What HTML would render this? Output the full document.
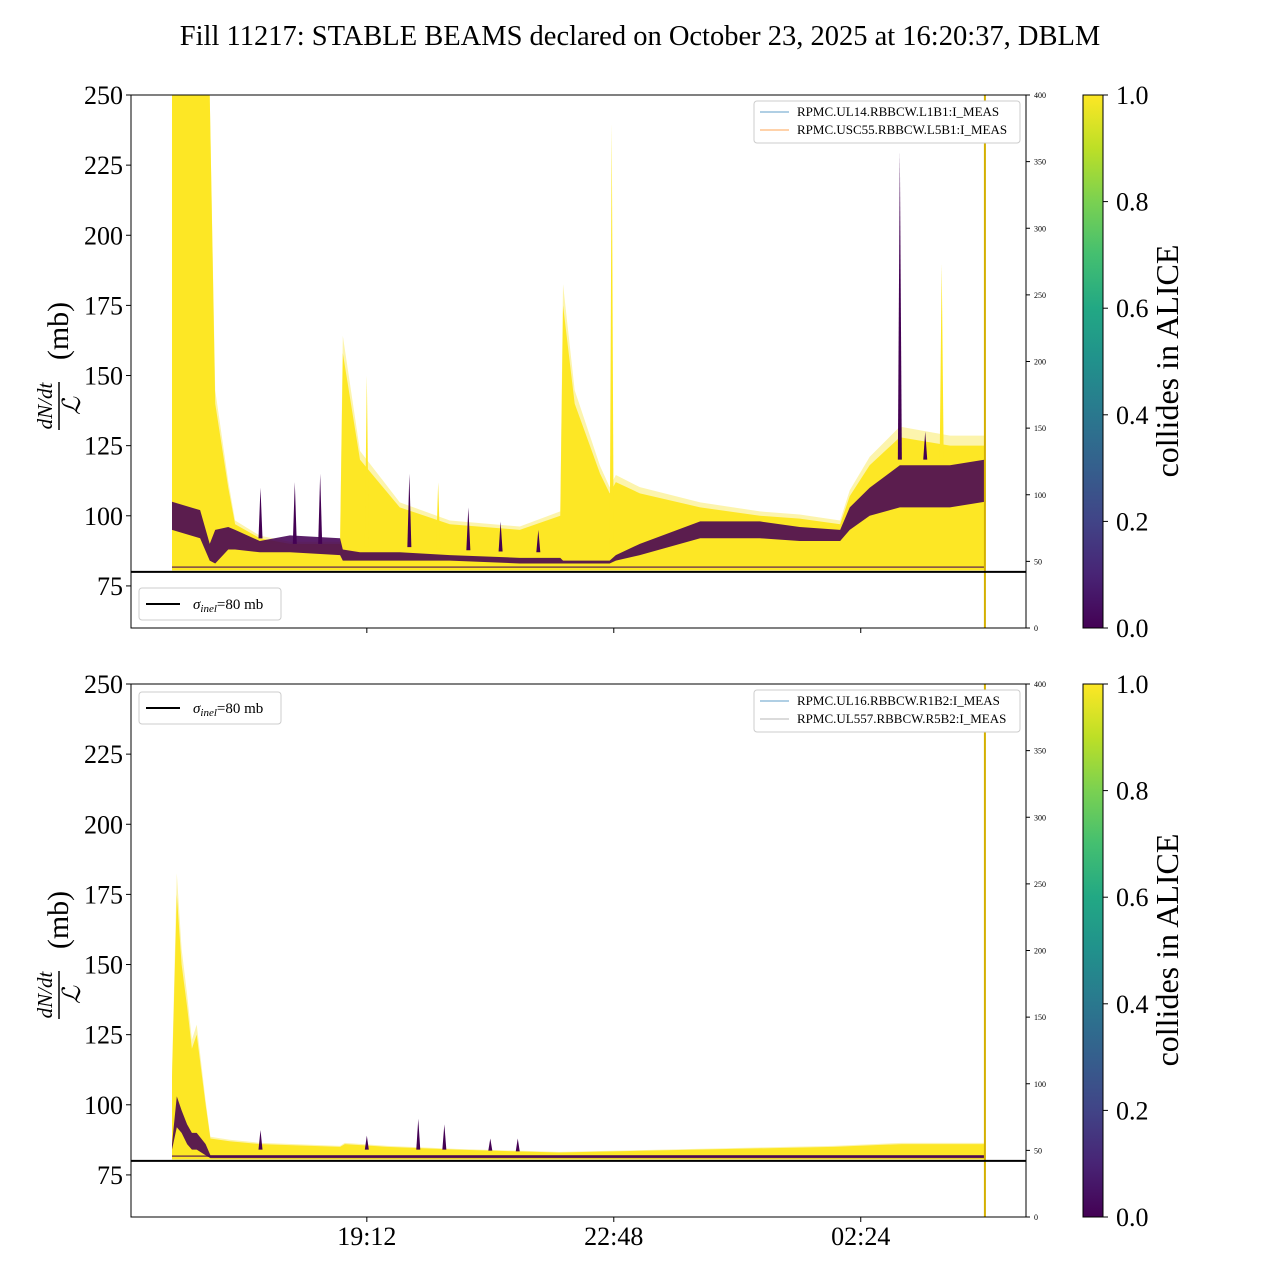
<!DOCTYPE html>
<html><head><meta charset="utf-8"><style>
html,body{margin:0;padding:0;background:#fff;}
svg{display:block;font-family:"Liberation Serif","DejaVu Serif",serif;}
</style></head><body>
<svg id="chart" width="1280" height="1280" viewBox="0 0 1280 1280" xmlns="http://www.w3.org/2000/svg">
<defs>
<linearGradient id="viridis" x1="0" y1="1" x2="0" y2="0">
<stop offset="0" stop-color="#440154"/><stop offset="0.1" stop-color="#482475"/><stop offset="0.2" stop-color="#414487"/><stop offset="0.3" stop-color="#355f8d"/><stop offset="0.4" stop-color="#2a788e"/><stop offset="0.5" stop-color="#21918c"/><stop offset="0.6" stop-color="#22a884"/><stop offset="0.7" stop-color="#44bf70"/><stop offset="0.8" stop-color="#7ad151"/><stop offset="0.9" stop-color="#bddf26"/><stop offset="1" stop-color="#fde725"/>
</linearGradient>
</defs>
<text x="640" y="45" font-size="28.5" text-anchor="middle">Fill 11217: STABLE BEAMS declared on October 23, 2025 at 16:20:37, DBLM</text>
<g id="top"></g>
<g id="bot"></g>
</svg>
<script>
// time in hours since midnight Oct 23 (values > 24 are next day)
const xTickLabels = ["19:12", "22:48", "02:24"];
const xTickTimes = [19.2, 22.8, 26.4];
const yTicks = [75, 100, 125, 150, 175, 200, 225, 250];
const rTicks = [0, 50, 100, 150, 200, 250, 300, 350, 400];
const cbTicks = [0.0, 0.2, 0.4, 0.6, 0.8, 1.0];
const sigmaInel = 80;
const endTime = 28.21;

const topTimes = [16.36,16.77,16.91,16.99,17.18,17.28,17.64,18.08,18.81,18.85,19.10,19.68,20.41,21.43,22.02,22.06,22.23,22.60,22.74,22.83,23.18,24.06,24.93,25.51,26.10,26.24,26.53,26.97,27.70,28.21];
const topUpper = [250,250,250,140,110,97,92,90,90,158,120,103,97,95,100,175,140,115,108,112,108,103,100,99,97,107,118,128,125,125];
const topPurpleLo = [95,92,84,83,88,88,87,87,86,84,84,84,84,83,83,83,83,83,83,84,86,92,92,91,91,95,100,103,103,105];
const topPurpleHi = [105,102,90,95,96,95,91,93,92,88,87,87,86,85,85,84,84,84,84,86,90,98,98,96,95,103,110,118,118,120];
const topSpikeTimes = [17.65,18.15,18.52,19.20,19.82,20.24,20.68,21.15,21.70,22.77,26.97,27.34,27.58];
const topSpikeVals = [110,112,115,150,115,112,103,98,95,240,230,130,190];
const topSpikeKind = ["p","p","p","y","p","y","p","p","p","y","p","p","y"];

const botTimes = [16.36,16.43,16.50,16.58,16.65,16.72,16.85,16.92,17.20,17.65,18.81,18.88,19.50,20.50,22.00,24.00,26.00,27.00,28.21];
const botUpper = [110,175,150,135,120,125,100,88,87,86,85,86,85,84,83,84,85,86,86];
const botPurpleLo = [84,92,90,86,84,84,82,81,81,81,81,81,81,81,81,81,81,81,81];
const botPurpleHi = [86,103,98,93,90,90,86,82,82,82,82,82,82,82,82,82,82,82,82];
const botSpikeTimes = [17.65,19.20,19.95,20.33,21.00,21.40];
const botSpikeVals = [91,89,95,93,88,88];

const NS = "http://www.w3.org/2000/svg";
const X0 = 131, X1 = 1026, T0 = 16.36, PXH = 68.6, XS = 172;
function xs(t){ return XS + (t - T0) * PXH; }
function interp(ts, vs, t){
  for (let i = 0; i < ts.length-1; i++){
    if (t >= ts[i] && t <= ts[i+1]) return vs[i] + (vs[i+1]-vs[i])*(t-ts[i])/(ts[i+1]-ts[i]);
  }
  return vs[vs.length-1];
}

function mk(parent, tag, attrs, text){
  const e = document.createElementNS(NS, tag);
  for (const k in attrs) e.setAttribute(k, attrs[k]);
  if (text !== undefined) e.textContent = text;
  parent.appendChild(e);
  return e;
}

function panel(g, top, times, upper, plo, phi, spT, spV, spK, legendTop, legendNames, legendColors, showXLabels){
  const bot = top + 533;
  const ys = v => bot - (v - 60) * (533 / 190);
  const yr = v => bot - v * (533 / 400);
  let pts = times.map((t,i)=>xs(t)+","+ys(Math.min(80.5+(upper[i]-80.5)*1.08,250))).join(" ");
  pts += " " + xs(times[times.length-1]) + "," + ys(80.5) + " " + xs(times[0]) + "," + ys(80.5);
  const env = mk(g, "polygon", {points: pts, fill: "#fbef8a", opacity: "0.7"});
  
  
  let pts2 = times.map((t,i)=>xs(t)+","+ys(Math.min(upper[i],250))).join(" ");
  pts2 += " " + xs(times[times.length-1]) + "," + ys(80.5) + " " + xs(times[0]) + "," + ys(80.5);
  const env2 = mk(g, "polygon", {points: pts2, fill: "#fde725"});
  
  
  let pp = times.map((t,i)=>xs(t)+","+ys(phi[i])).join(" ");
  for (let i = times.length-1; i >= 0; i--) pp += " " + xs(times[i]) + "," + ys(plo[i]);
  const pb = mk(g, "polygon", {points: pp, fill: "#440154", opacity: "0.88"});
  
  
  const fl = mk(g, "line", {x1: xs(times[0]), x2: xs(endTime), y1: ys(81.7), y2: ys(81.7), stroke: "#440154", "stroke-width": 1.5, opacity: 0.7});
  
  
  spT.forEach((t,i)=>{
    const bv = Math.min(interp(times, upper, t), interp(times, phi, t) + 2);
    const base = ys(bv);
    const c = (spK && spK[i] === "y") ? "#fde725" : "#440154";
    const s = mk(g, "polygon", {points: (xs(t)-2)+","+base+" "+xs(t)+","+ys(spV[i])+" "+(xs(t)+2)+","+base, fill: c});
    
    
  });
  const el = mk(g, "line", {x1: xs(endTime), x2: xs(endTime), y1: top, y2: bot, stroke: "#d4b000", "stroke-width": 2});
  
  
  const sl = mk(g, "line", {x1: X0, x2: X1, y1: ys(sigmaInel), y2: ys(sigmaInel), stroke: "#000", "stroke-width": 2});
  
  
  const box = mk(g, "rect", {x: X0, y: top, width: X1-X0, height: 533, fill: "none", stroke: "#000", "stroke-width": 1});
  
  
  yTicks.forEach(v=>{
    mk(g, "line", {x1: X0-5, x2: X0, y1: ys(v), y2: ys(v), stroke: "#000"});
    const t = mk(g, "text", {x: X0-8, y: ys(v)+9, "font-size": 26, "text-anchor": "end"}, String(v));
    
    
  });
  rTicks.forEach(v=>{
    mk(g, "line", {x1: X1, x2: X1+4, y1: yr(v), y2: yr(v), stroke: "#000"});
    const t = mk(g, "text", {x: X1+8, y: yr(v)+3, "font-size": 8}, String(v));
    
    
  });
  xTickTimes.forEach((tt,i)=>{
    mk(g, "line", {x1: xs(tt), x2: xs(tt), y1: bot, y2: bot+5, stroke: "#000"});
    if (showXLabels){
      const t = mk(g, "text", {x: xs(tt), y: bot+28, "font-size": 26, "text-anchor": "middle"}, xTickLabels[i]);
      
      
    }
  });
  const yl = mk(g, "g", {transform: "translate(60," + (top+266) + ") rotate(-90)"});
  
  
  mk(yl, "text", {x: -45, y: -8, "font-size": 21, "font-style": "italic", "text-anchor": "middle"}, "dN/dt");
  mk(yl, "line", {x1: -69, x2: -21, y1: -1, y2: -1, stroke: "#000", "stroke-width": 1.5});
  mk(yl, "text", {x: -45, y: 20, "font-size": 25, "font-style": "italic", "text-anchor": "middle"}, "ℒ");
  mk(yl, "text", {x: 30, y: 8, "font-size": 30, "text-anchor": "middle"}, "(mb)");
  const lg = mk(g, "g", {});
  
  
  mk(lg, "rect", {x: 139, y: legendTop, width: 142, height: 32, rx: 3, fill: "#fff", stroke: "#ccc"});
  mk(lg, "line", {x1: 146, x2: 180, y1: legendTop+16, y2: legendTop+16, stroke: "#000", "stroke-width": 2});
  const lt = mk(lg, "text", {x: 193, y: legendTop+21, "font-size": 15});
  mk(lt, "tspan", {"font-style": "italic"}, "σ");
  mk(lt, "tspan", {"font-style": "italic", "font-size": 11, dy: 3}, "inel");
  mk(lt, "tspan", {dy: -3}, "=80 mb");
  const cl = mk(g, "g", {});
  
  
  mk(cl, "rect", {x: 754, y: top+6, width: 266, height: 42, rx: 3, fill: "#fff", stroke: "#ccc"});
  legendNames.forEach((n,i)=>{
    mk(cl, "line", {x1: 760, x2: 789, y1: top+17+i*18, y2: top+17+i*18, stroke: legendColors[i], "stroke-width": 1, opacity: 0.7});
    const t = mk(cl, "text", {x: 797, y: top+21+i*18, "font-size": 13}, n);
    
    
  });
  const cb = mk(g, "rect", {x: 1083, y: top, width: 20, height: 533, fill: "url(#viridis)", stroke: "#000", "stroke-width": 1});
  
  
  cbTicks.forEach(v=>{
    const y = bot - v*533;
    mk(g, "line", {x1: 1103, x2: 1108, y1: y, y2: y, stroke: "#000"});
    const t = mk(g, "text", {x: 1116, y: y+9, "font-size": 26}, v.toFixed(1));
    
    
  });
  const cbl = mk(g, "text", {x: 0, y: 0, "font-size": 32, "text-anchor": "middle", transform: "translate(1178," + (top+266) + ") rotate(-90)"}, "collides in ALICE");
  
  
}

panel(document.getElementById("top"), 95, topTimes, topUpper, topPurpleLo, topPurpleHi, topSpikeTimes, topSpikeVals, topSpikeKind, 588,
  ["RPMC.UL14.RBBCW.L1B1:I_MEAS", "RPMC.USC55.RBBCW.L5B1:I_MEAS"], ["#1f77b4", "#ff7f0e"], false);
panel(document.getElementById("bot"), 684, botTimes, botUpper, botPurpleLo, botPurpleHi, botSpikeTimes, botSpikeVals, null, 692,
  ["RPMC.UL16.RBBCW.R1B2:I_MEAS", "RPMC.UL557.RBBCW.R5B2:I_MEAS"], ["#1f77b4", "#999999"], true);
</script>
</body></html>
